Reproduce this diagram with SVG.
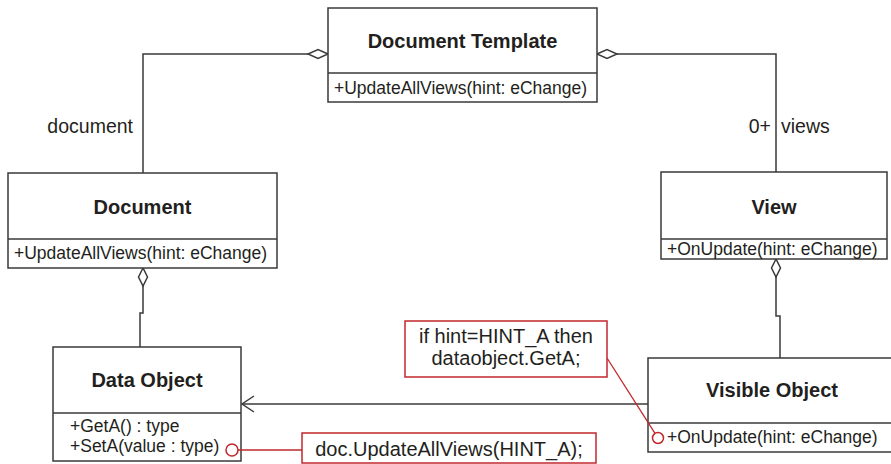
<svg xmlns="http://www.w3.org/2000/svg" width="891" height="464" viewBox="0 0 891 464">
  <style>
    .box { fill: #ffffff; stroke: #3a3a3a; stroke-width: 1.5; }
    .div { stroke: #3a3a3a; stroke-width: 1.5; }
    .title { font-family: "Liberation Sans", Arial, sans-serif; font-weight: bold; font-size: 20px; fill: #231f20; text-anchor: middle; }
    .meth { font-family: "Liberation Sans", Arial, sans-serif; font-size: 17.5px; fill: #231f20; }
    .lbl { font-family: "Liberation Sans", Arial, sans-serif; font-size: 19.5px; fill: #231f20; }
    .note { fill: #ffffff; stroke: #c1272d; stroke-width: 1.5; }
    .notetext { font-family: "Liberation Sans", Arial, sans-serif; font-size: 20px; fill: #231f20; text-anchor: middle; }
    .link { fill: none; stroke: #3a3a3a; stroke-width: 1.5; }
    .diamond { fill: #ffffff; stroke: #3a3a3a; stroke-width: 1.5; }
    .red { fill: none; stroke: #c1272d; stroke-width: 1.3; }
    .anchor { fill: #ffffff; stroke: #c1272d; stroke-width: 1.5; }
  </style>
  <defs>
    <marker id="open-arrow" markerWidth="16" markerHeight="18" refX="13" refY="9" orient="auto" markerUnits="userSpaceOnUse">
      <path d="M1,1 L13,9 L1,17" fill="none" stroke="#3a3a3a" stroke-width="1.5"/>
    </marker>
  </defs>

  <!-- connectors -->
  <g id="connectors">
    <!-- Document Template aggregates Document -->
    <path class="link" d="M308,54 H143 V173"/>
    <path class="diamond" d="M328,54 L318,49.5 L308,54 L318,58.5 Z"/>
    <!-- Document Template aggregates Views -->
    <path class="link" d="M617,54 H776 V172"/>
    <path class="diamond" d="M597,54 L607,49.5 L617,54 L607,58.5 Z"/>
    <!-- Document aggregates Data Object -->
    <path class="link" d="M143,286 V313 H140 V347"/>
    <path class="diamond" d="M143,268 L138.5,277 L143,286 L147.5,277 Z"/>
    <!-- View aggregates Visible Object -->
    <path class="link" d="M776,277 V316 H780 V358"/>
    <path class="diamond" d="M776,259 L771.5,268 L776,277 L780.5,268 Z"/>
    <!-- Visible Object uses Data Object -->
    <line class="link" x1="648" y1="404" x2="242" y2="404" marker-end="url(#open-arrow)"/>
    <!-- role labels -->
    <text class="lbl" x="133" y="133" text-anchor="end">document</text>
    <text class="lbl" x="771" y="133" text-anchor="end">0+</text>
    <text class="lbl" x="781" y="133">views</text>
  </g>

  <g id="document-template">
    <rect class="box" x="328" y="8" width="269" height="94"/>
    <line class="div" x1="328" y1="73" x2="597" y2="73"/>
    <text class="title" x="462.5" y="48">Document Template</text>
    <text class="meth" x="334" y="94">+UpdateAllViews(hint: eChange)</text>
  </g>

  <g id="document">
    <rect class="box" x="8" y="173" width="269" height="95"/>
    <line class="div" x1="8" y1="239" x2="277" y2="239"/>
    <text class="title" x="142.5" y="214">Document</text>
    <text class="meth" x="14" y="259">+UpdateAllViews(hint: eChange)</text>
  </g>

  <g id="view">
    <rect class="box" x="661" y="172" width="226" height="87"/>
    <line class="div" x1="661" y1="239" x2="887" y2="239"/>
    <text class="title" x="774" y="214">View</text>
    <text class="meth" x="667" y="255">+OnUpdate(hint: eChange)</text>
  </g>

  <g id="data-object">
    <rect class="box" x="53" y="347" width="188" height="114"/>
    <line class="div" x1="53" y1="413" x2="241" y2="413"/>
    <text class="title" x="147" y="387">Data Object</text>
    <text class="meth" x="70" y="432">+GetA() : type</text>
    <text class="meth" x="70" y="452">+SetA(value : type)</text>
  </g>

  <g id="visible-object">
    <rect class="box" x="648" y="358" width="250" height="94"/>
    <line class="div" x1="648" y1="423" x2="898" y2="423"/>
    <text class="title" x="772" y="397">Visible Object</text>
    <text class="meth" x="667" y="443">+OnUpdate(hint: eChange)</text>
  </g>

  <g id="note-onupdate">
    <line class="red" x1="607" y1="358" x2="655" y2="433.3"/>
    <circle class="anchor" cx="658" cy="438" r="5.5"/>
    <rect class="note" x="405" y="321" width="202" height="56"/>
    <text class="notetext" x="506" y="343">if hint=HINT_A then</text>
    <text class="notetext" x="506" y="365">dataobject.GetA;</text>
  </g>

  <g id="note-seta">
    <line class="red" x1="238" y1="450" x2="302" y2="450"/>
    <circle class="anchor" cx="232" cy="450" r="6"/>
    <rect class="note" x="302" y="433" width="294" height="30"/>
    <text class="notetext" x="449" y="456">doc.UpdateAllViews(HINT_A);</text>
  </g>
</svg>
